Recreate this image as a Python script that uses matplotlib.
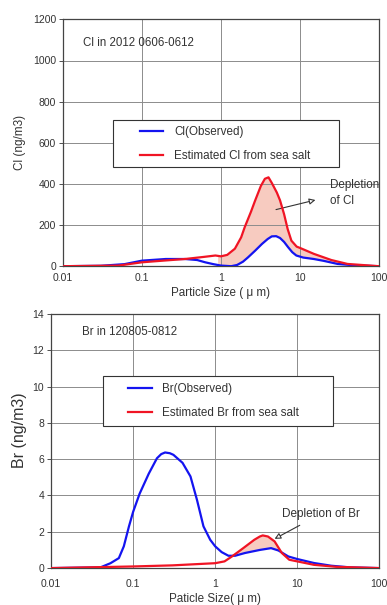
import numpy as np
import matplotlib
matplotlib.use("Agg")
import matplotlib.pyplot as plt
from matplotlib.patches import Rectangle

plt.rcParams['font.family'] = ['Liberation Sans', 'DejaVu Sans']

# Cl size distribution (ng/m3)
cl_obs_x = [0.01, 0.03, 0.06, 0.1, 0.2, 0.35, 0.5, 0.63, 0.8, 1.0, 1.35, 1.6, 1.9, 2.2, 2.7, 3.3, 3.9, 4.4, 5.0, 5.6, 6.3, 7.1, 8.0, 9.0, 11, 15, 20, 30, 50, 100]
cl_obs_y = [0, 2, 10, 27, 35, 35, 30, 19, 10, 3, 0, 6, 22, 43, 75, 108, 132, 145, 146, 137, 118, 92, 68, 52, 42, 35, 26, 11, 4, 0]
cl_est_x = [0.01, 0.05, 0.1, 0.2, 0.35, 0.6, 0.85, 1.0, 1.2, 1.5, 1.8, 2.0, 2.4, 2.7, 3.2, 3.6, 4.0, 4.4, 5.1, 5.6, 6.3, 7.0, 7.8, 9.1, 10, 15, 25, 40, 100]
cl_est_y = [0, 3, 19, 28, 35, 45, 52, 48, 55, 85, 140, 190, 265, 318, 390, 425, 432, 405, 358, 320, 253, 180, 124, 95, 89, 60, 30, 11, 0]

# Br size distribution (ng/m3)
br_obs_x = [0.01, 0.04, 0.053, 0.067, 0.077, 0.089, 0.1, 0.12, 0.155, 0.195, 0.22, 0.245, 0.28, 0.31, 0.4, 0.5, 0.6,
            0.72, 0.87, 1.0, 1.2, 1.45, 1.75, 2.3, 3.5, 4.8, 5.9, 7.8, 10, 16, 26, 44, 100]
br_obs_y = [0, 0.04, 0.27, 0.55, 1.2, 2.3, 3.1, 4.1, 5.2, 6.05, 6.28, 6.37, 6.33, 6.24, 5.8, 5.05, 3.76,
            2.3, 1.56, 1.2, 0.88, 0.68, 0.68, 0.83, 1.0, 1.1, 0.97, 0.64, 0.5, 0.28, 0.13, 0.04, 0]
br_est_x = [0.01, 0.1, 0.3, 1.0, 1.3, 1.6, 2.2, 3.0, 3.5, 3.8, 4.4, 5.3, 6.5, 8.0, 10, 16, 30, 100]
br_est_y = [0, 0.09, 0.15, 0.27, 0.37, 0.64, 1.1, 1.56, 1.74, 1.8, 1.74, 1.47, 0.83, 0.46, 0.37, 0.18, 0.07, 0]

TXT = '#333333'
GRID = '#8c8c8c'
FILL = '#f7cbc0'
BLUE = '#1414f0'
RED = '#f01424'


def style(ax, ymax, ystep, xpad):
    ax.set_xscale('log')
    ax.set_xlim(0.01, 100)
    ax.set_ylim(0, ymax)
    ax.set_xticks([0.01, 0.1, 1, 10, 100])
    ax.set_xticklabels(['0.01', '0.1', '1', '10', '100'])
    ax.xaxis.set_minor_locator(matplotlib.ticker.NullLocator())
    ax.set_yticks(np.arange(0, ymax + 1, ystep))
    ax.grid(True, color=GRID, lw=0.7)
    ax.tick_params(labelsize=7.5, colors=TXT, length=3, width=0.6, pad=2)
    ax.tick_params(axis='x', length=0, pad=xpad)
    for s in ax.spines.values():
        s.set_color('#444444')
        s.set_linewidth(0.9)


def fill_depletion(ax, ox, oy, ex, ey):
    xx = np.logspace(-2, 2, 800)
    lx = np.log10(xx)
    o = np.interp(lx, np.log10(ox), oy)
    e = np.interp(lx, np.log10(ex), ey)
    ax.fill_between(xx, o, e, where=(e > o) & (xx > 0.9), color=FILL, lw=0, zorder=1)


def legend_box(ax, rect, anchor, handles):
    ax.add_patch(Rectangle(rect[:2], rect[2], rect[3], transform=ax.transAxes,
                           fc='white', ec='#333333', lw=0.8, zorder=5))
    leg = ax.legend(handles=handles, loc='center left', bbox_to_anchor=anchor, fontsize=8.4,
                    frameon=False, handlelength=2.0, borderpad=0, labelspacing=1.05,
                    handletextpad=0.9, borderaxespad=0)
    leg.set_zorder(6)
    for t in leg.get_texts():
        t.set_color(TXT)


fig = plt.figure(figsize=(3.87, 6.05), dpi=100)

# ---- Cl ----
ax1 = fig.add_axes([0.163, 0.560, 0.816, 0.408])
style(ax1, 1200, 200, 5)
fill_depletion(ax1, cl_obs_x, cl_obs_y, cl_est_x, cl_est_y)
h1, = ax1.plot(cl_obs_x, cl_obs_y, color=BLUE, lw=1.6, label='Cl(Observed)', zorder=3)
h2, = ax1.plot(cl_est_x, cl_est_y, color=RED, lw=1.6, label='Estimated Cl from sea salt', zorder=4)
ax1.text(0.063, 0.903, 'Cl in 2012 0606-0612', transform=ax1.transAxes, fontsize=8.3, color=TXT, va='center')
ax1.annotate('', xy=(17, 325), xytext=(4.6, 272),
             arrowprops=dict(arrowstyle='-|>', fc='white', ec='#333333', lw=0.8, mutation_scale=9))
ax1.text(24, 355, 'Depletion\nof Cl', fontsize=8.4, color=TXT, va='center', linespacing=1.4)
ax1.set_ylabel('Cl (ng/m3)', fontsize=8.5, color=TXT, labelpad=5)
ax1.set_xlabel('Particle Size ( μ m)', fontsize=8.4, color=TXT, labelpad=3)
legend_box(ax1, (0.158, 0.401, 0.715, 0.190), (0.244, 0.494), [h1, h2])

# ---- Br ----
ax2 = fig.add_axes([0.132, 0.061, 0.848, 0.420])
style(ax2, 14, 2, 8)
fill_depletion(ax2, br_obs_x, br_obs_y, br_est_x, br_est_y)
g1, = ax2.plot(br_obs_x, br_obs_y, color=BLUE, lw=1.6, label='Br(Observed)', zorder=3)
g2, = ax2.plot(br_est_x, br_est_y, color=RED, lw=1.6, label='Estimated Br from sea salt', zorder=4)
ax2.text(0.094, 0.929, 'Br in 120805-0812', transform=ax2.transAxes, fontsize=8.3, color=TXT, va='center')
ax2.annotate('', xy=(4.95, 1.54), xytext=(11.5, 2.43),
             arrowprops=dict(arrowstyle='-|>', fc='white', ec='#333333', lw=0.8, mutation_scale=9))
ax2.text(6.6, 2.98, 'Depletion of Br', fontsize=8.5, color=TXT, va='center')
ax2.set_ylabel('Br (ng/m3)', fontsize=11.5, color=TXT)
ax2.yaxis.set_label_coords(-0.073, 0.543)
ax2.set_xlabel('Paticle Size( μ m)', fontsize=8.4, color=TXT, labelpad=3)
legend_box(ax2, (0.159, 0.559, 0.701, 0.197), (0.235, 0.657), [g1, g2])

fig.savefig('out.png', dpi=100)
